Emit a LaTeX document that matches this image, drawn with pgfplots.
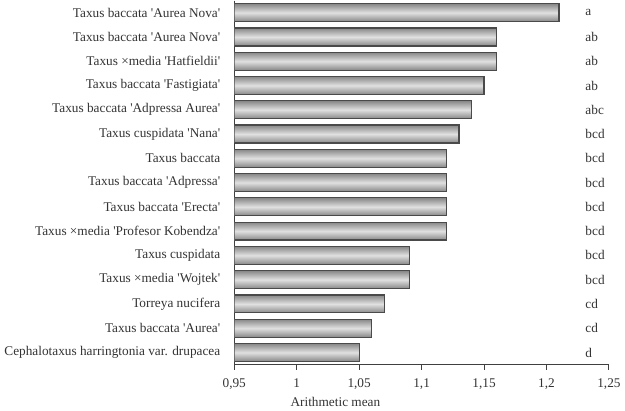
\documentclass[border=0pt]{standalone}
\usepackage{pgfplots}
\pgfplotsset{compat=1.18}
\usepackage{fontspec}
\setmainfont{Liberation Serif}
\definecolor{txt}{HTML}{333333}
\definecolor{edge}{HTML}{4a4a4a}
\def\q{\textquotesingle}
\tikzset{bs/.style={draw=edge, line width=0.9pt, top color=black!47, bottom color=black!47, middle color=black!12}}
\begin{document}
\begin{tikzpicture}
\begin{axis}[
  scale only axis,
  width=282pt, height=274pt,
  xbar,
  bar width=13.5pt,
  bar shift=0pt,
  xmin=0.95, xmax=1.25,
  ymin=-0.5, ymax=14.5,
  y dir=reverse,
  axis x line*=bottom,
  axis y line*=left,
  axis line style={-, line width=0.8pt, black!75},
  xtick={0.95,1,1.05,1.1,1.15,1.2,1.25},
  /pgf/number format/use comma,
  /pgf/number format/fixed,
  /pgf/number format/precision=2,
  /pgf/number format/assume math mode=true,
  ytick={0,...,14},
  yticklabels={
    {Taxus baccata \q Aurea Nova\q},
    {Taxus baccata \q Aurea Nova\q},
    {Taxus ×media \q Hatfieldii\q},
    {Taxus baccata \q Fastigiata\q},
    {Taxus baccata \q Adpressa Aurea\q},
    {Taxus cuspidata \q Nana\q},
    {Taxus baccata},
    {Taxus baccata \q Adpressa\q},
    {Taxus baccata \q Erecta\q},
    {Taxus ×media \q Profesor Kobendza\q},
    {Taxus cuspidata},
    {Taxus ×media \q Wojtek\q},
    {Torreya nucifera},
    {Taxus baccata \q Aurea\q},
    {Cephalotaxus harringtonia var. drupacea}},
  minor ytick={-0.5,0.5,...,14.5},
  tick align=outside,
  major tick length=4pt,
  ytick style={draw=none},
  minor tick style={black!75, line width=0.8pt},
  minor tick length=4pt,
  xtick style={black!75, line width=0.8pt},
  yticklabel style={font=\fontsize{10}{12}\selectfont, text=txt, xshift=-3pt},
  xticklabel style={font=\fontsize{10}{12}\selectfont, text=txt, yshift=-3pt},
  xlabel={Arithmetic mean},
  xlabel style={font=\fontsize{10}{12}\selectfont, text=txt, at={(axis description cs:0.27,0)}, anchor=north, yshift=-21pt},
]
\addplot[bs] coordinates {(1.21,0)};
\addplot[bs] coordinates {(1.16,1)};
\addplot[bs] coordinates {(1.16,2)};
\addplot[bs] coordinates {(1.15,3)};
\addplot[bs] coordinates {(1.14,4)};
\addplot[bs] coordinates {(1.13,5)};
\addplot[bs] coordinates {(1.12,6)};
\addplot[bs] coordinates {(1.12,7)};
\addplot[bs] coordinates {(1.12,8)};
\addplot[bs] coordinates {(1.12,9)};
\addplot[bs] coordinates {(1.09,10)};
\addplot[bs] coordinates {(1.09,11)};
\addplot[bs] coordinates {(1.07,12)};
\addplot[bs] coordinates {(1.06,13)};
\addplot[bs] coordinates {(1.05,14)};
\tikzset{lt/.style={anchor=west, text=txt, font=\fontsize{10}{12}\selectfont, inner sep=0pt}}
\node[lt] at (axis cs:1.231,0) {a};
\node[lt] at (axis cs:1.231,1) {ab};
\node[lt] at (axis cs:1.231,2) {ab};
\node[lt] at (axis cs:1.231,3) {ab};
\node[lt] at (axis cs:1.231,4) {abc};
\node[lt] at (axis cs:1.231,5) {bcd};
\node[lt] at (axis cs:1.231,6) {bcd};
\node[lt] at (axis cs:1.231,7) {bcd};
\node[lt] at (axis cs:1.231,8) {bcd};
\node[lt] at (axis cs:1.231,9) {bcd};
\node[lt] at (axis cs:1.231,10) {bcd};
\node[lt] at (axis cs:1.231,11) {bcd};
\node[lt] at (axis cs:1.231,12) {cd};
\node[lt] at (axis cs:1.231,13) {cd};
\node[lt] at (axis cs:1.231,14) {d};
\end{axis}
\end{tikzpicture}
\end{document}
